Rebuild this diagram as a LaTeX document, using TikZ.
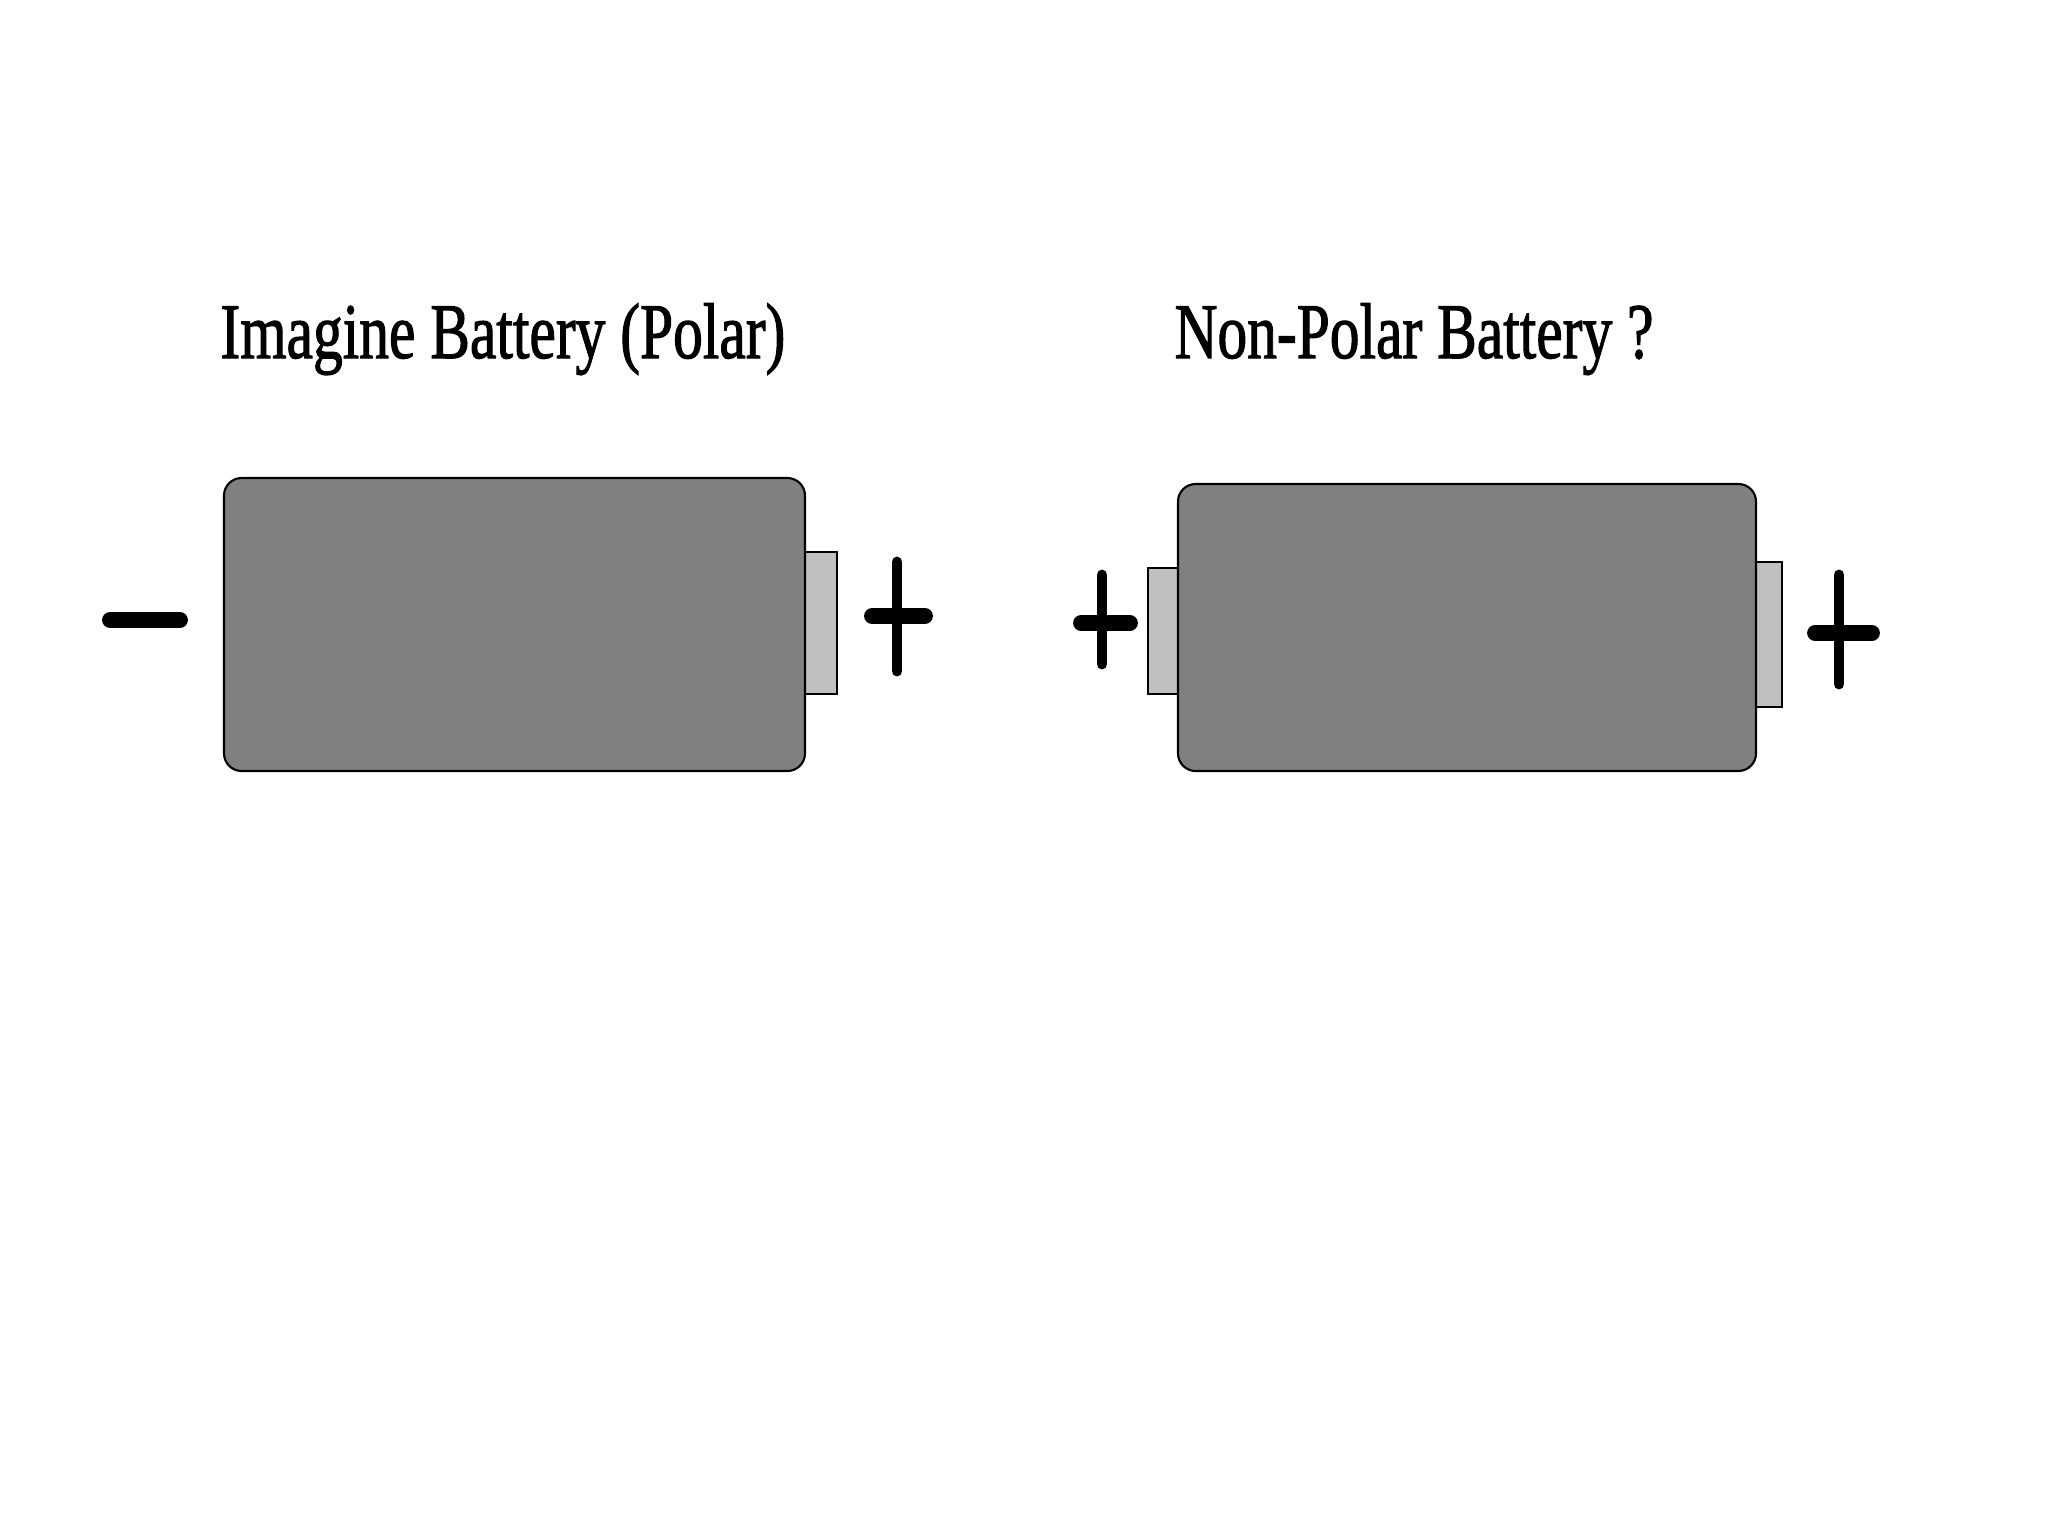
\documentclass[tikz,border=0pt]{standalone}
\usepackage{fontspec}
\setmainfont{Liberation Serif}
\newfontfamily\titlefont[FakeBold=1.6]{Liberation Serif}
\usepackage{xcolor}
\usepackage{tikz}
\definecolor{cellgray}{RGB}{128,128,128}
\definecolor{tipgray}{RGB}{192,192,192}
\tikzset{
  cellbody/.style={draw=black, fill=cellgray, line width=0.6pt, rounded corners=5pt},
  celltip/.style={draw=black, fill=tipgray, line width=0.6pt},
  polebar/.style={line width=4.5pt, line cap=round},
  polestem/.style={line width=3.1pt, line cap=round},
  headline/.style={anchor=base west, inner sep=0pt, font=\fontsize{22.4}{26}\selectfont\titlefont, xscale=0.755}
}
\begin{document}
\begin{tikzpicture}[x=0.01cm, y=-0.01cm]
\useasboundingbox (0,0) rectangle (2048,1536);
% Titles
\node[headline] (polartitle) at (220,358) {Imagine Battery (Polar)};
\node[headline] (nonpolartitle) at (1174,358) {Non-Polar Battery ?};
% Terminals
\draw[celltip] (805,552) rectangle (837,694);
\draw[celltip] (1148,568) rectangle (1178,694);
\draw[celltip] (1756,562) rectangle (1782,707);
% Battery bodies
\draw[cellbody] (224,478) rectangle (805,771);
\draw[cellbody] (1178,484) rectangle (1756,771);
% Minus sign
\draw[polebar] (110,620) -- (180,620);
% Plus signs
\foreach \xa/\xb/\yh/\xv/\ya/\yb in {872/925/616/897/562/671,
                                     1081/1130/623/1102/575/664,
                                     1815/1872/633/1839/575/684} {
  \draw[polebar] (\xa,\yh) -- (\xb,\yh);
  \draw[polestem] (\xv,\ya) -- (\xv,\yb);
}
\end{tikzpicture}
\end{document}
